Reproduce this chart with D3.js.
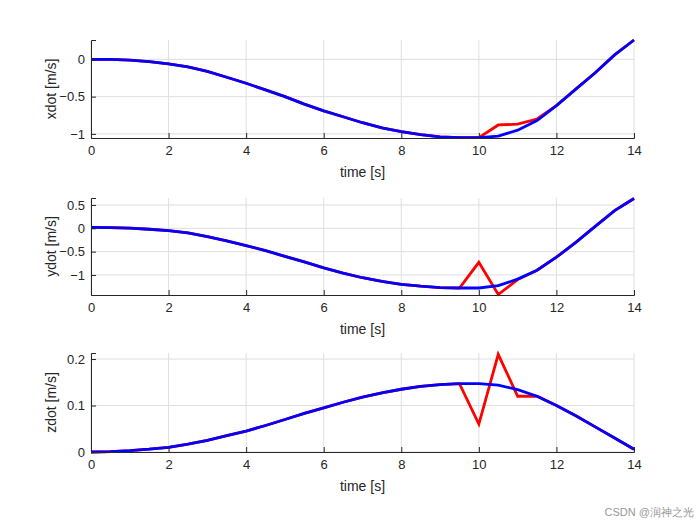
<!DOCTYPE html>
<html><head><meta charset="utf-8">
<script src="https://cdn.jsdelivr.net/npm/d3@7"></script>
<style>body{margin:0;background:#fff}text{font-family:"Liberation Sans",Arial,sans-serif}</style>
</head><body><div id="chart"></div>
<script>
var t = [0,0.5,1,1.5,2,2.5,3,3.5,4,4.5,5,5.5,6,6.5,7,7.5,8,8.5,9,9.5,10,10.5,11,11.5,12,12.5,13,13.5,14];
var xdotRef = [0,0,-0.01,-0.03,-0.06,-0.1,-0.16,-0.24,-0.32,-0.41,-0.5,-0.6,-0.69,-0.77,-0.85,-0.92,-0.97,-1.01,-1.04,-1.05,-1.05,-1.03,-0.95,-0.82,-0.62,-0.4,-0.18,0.06,0.26];
var xdotAct = [0,0,-0.01,-0.03,-0.06,-0.1,-0.16,-0.24,-0.32,-0.41,-0.5,-0.6,-0.69,-0.77,-0.85,-0.92,-0.97,-1.01,-1.04,-1.05,-1.05,-0.88,-0.87,-0.8,-0.62,-0.4,-0.18,0.06,0.26];
var ydotRef = [0.02,0.015,0.005,-0.02,-0.05,-0.1,-0.18,-0.27,-0.37,-0.48,-0.6,-0.72,-0.85,-0.96,-1.06,-1.14,-1.2,-1.24,-1.27,-1.28,-1.28,-1.23,-1.09,-0.9,-0.62,-0.3,0.04,0.38,0.64];
var ydotAct = [0.02,0.015,0.005,-0.02,-0.05,-0.1,-0.18,-0.27,-0.37,-0.48,-0.6,-0.72,-0.85,-0.96,-1.06,-1.14,-1.2,-1.24,-1.27,-1.28,-0.73,-1.42,-1.1,-0.9,-0.62,-0.3,0.04,0.38,0.64];
var zdotRef = [0,0.001,0.003,0.006,0.01,0.017,0.025,0.035,0.045,0.057,0.07,0.083,0.095,0.107,0.118,0.127,0.135,0.141,0.145,0.147,0.147,0.144,0.134,0.12,0.1,0.078,0.054,0.03,0.006];
var zdotAct = [0,0.001,0.003,0.006,0.01,0.017,0.025,0.035,0.045,0.057,0.07,0.083,0.095,0.107,0.118,0.127,0.135,0.141,0.145,0.147,0.06,0.21,0.12,0.12,0.1,0.078,0.054,0.03,0.006];
var xTicks = [0,2,4,6,8,10,12,14];

var panels = [
  {label:"xdot [m/s]", ref:xdotRef, act:xdotAct, dom:[-1.055,0.26], ticks:[-1,-0.5,0], top:40, bot:138},
  {label:"ydot [m/s]", ref:ydotRef, act:ydotAct, dom:[-1.43,0.65], ticks:[-1,-0.5,0,0.5], top:198, bot:295},
  {label:"zdot [m/s]", ref:zdotRef, act:zdotAct, dom:[0,0.213], ticks:[0,0.1,0.2], top:353, bot:452}
];
var left = 91, right = 634;
var svg = d3.select("#chart").append("svg").attr("width",700).attr("height",525);
var x = d3.scaleLinear().domain([0,14]).range([left,right]);

panels.forEach(function(p){
  var y = d3.scaleLinear().domain(p.dom).range([p.bot,p.top]);
  var g = svg.append("g");
  g.selectAll(".vg").data(xTicks).enter().append("line")
    .attr("x1",d=>x(d)).attr("x2",d=>x(d)).attr("y1",p.top).attr("y2",p.bot)
    .attr("stroke","#dfdfdf");
  g.selectAll(".hg").data(p.ticks).enter().append("line")
    .attr("x1",left).attr("x2",right).attr("y1",d=>y(d)).attr("y2",d=>y(d))
    .attr("stroke","#dfdfdf");
  var line = d3.line().x((d,i)=>x(t[i])).y(d=>y(d));
  g.append("path").datum(p.act).attr("d",line).attr("fill","none").attr("stroke","#ff0000").attr("stroke-width",2.8);
  g.append("path").datum(p.ref).attr("d",line).attr("fill","none").attr("stroke","#0000ff").attr("stroke-width",2.8);
  var ax = g.append("g").attr("transform","translate(0,"+p.bot+")")
    .call(d3.axisBottom(x).tickValues(xTicks).tickSize(-5).tickPadding(8));
  var ay = g.append("g").attr("transform","translate("+left+",0)")
    .call(d3.axisLeft(y).tickValues(p.ticks).tickSize(-5).tickPadding(6).tickFormat(d3.format("")));
  [ax,ay].forEach(function(a){
    a.select(".domain").attr("stroke","#262626");
    a.selectAll(".tick line").attr("stroke","#262626");
    a.selectAll("text").attr("font-size",13).attr("fill","#262626").attr("font-family","Liberation Sans, Arial");
  });
  g.append("text").attr("x",(left+right)/2).attr("y",p.bot+39).attr("text-anchor","middle")
    .attr("font-size",14).attr("fill","#262626").text("time [s]");
  g.append("text").attr("transform","translate(56,"+((p.top+p.bot)/2)+") rotate(-90)")
    .attr("text-anchor","middle").attr("font-size",14).attr("fill","#262626").text(p.label);
});
svg.append("text").attr("x",694).attr("y",516).attr("text-anchor","end").attr("font-size",11)
  .attr("fill","#999").attr("font-family","Noto Sans CJK SC").text("CSDN @润神之光");
</script></body></html>
